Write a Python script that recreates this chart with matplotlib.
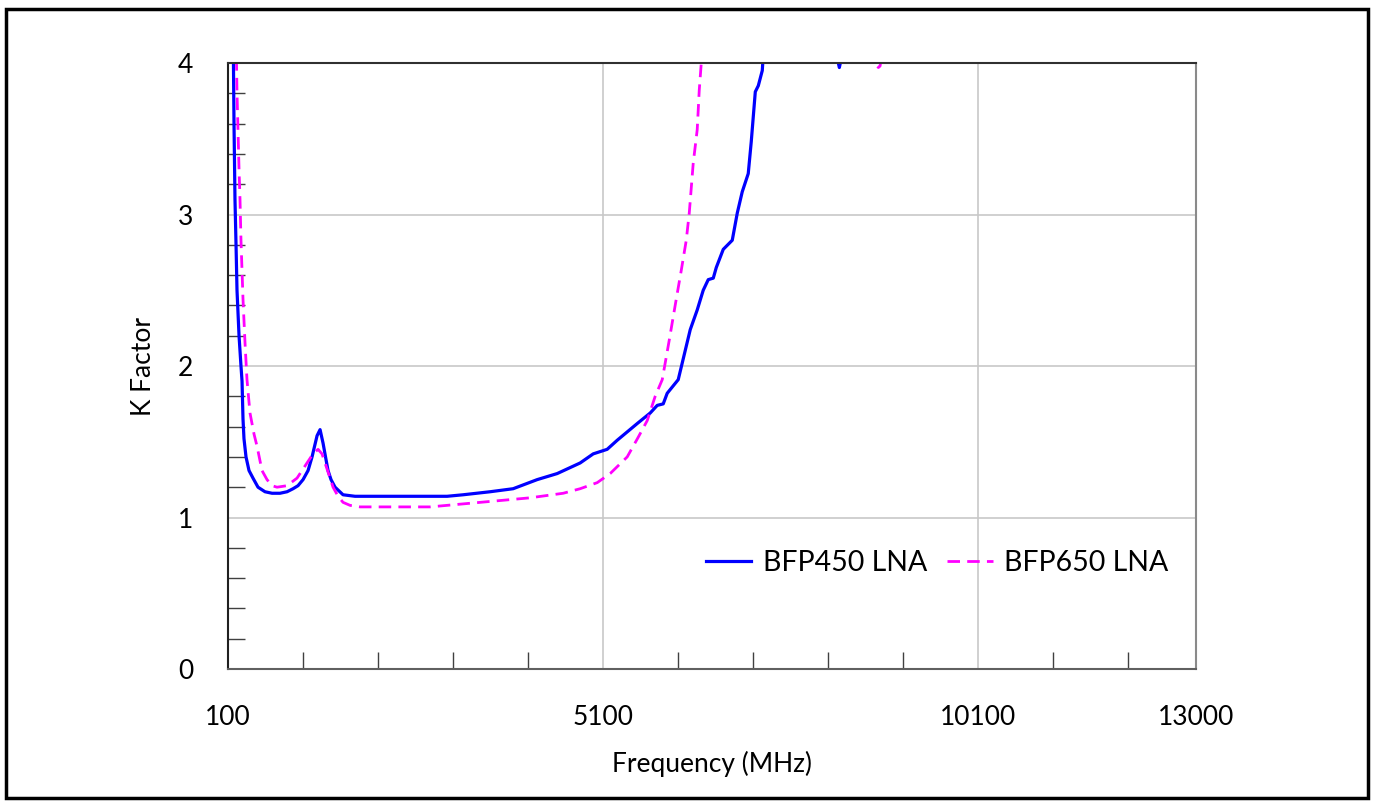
import numpy as np
import matplotlib
matplotlib.use("Agg")
import matplotlib.pyplot as plt
from matplotlib.patches import Rectangle

plt.rcParams['font.family'] = ['Lato', 'DejaVu Sans']

# BFP450 LNA, K factor vs frequency (MHz)
f_450 = [150, 167, 180, 193, 207, 220, 247, 273, 287, 300, 313, 340, 380, 433, 500, 593, 687, 793,
         887, 967, 1033, 1100, 1167, 1220, 1287, 1327, 1367, 1407, 1433, 1473, 1527, 1633, 1793,
         2127, 2527, 3020, 3233, 3593, 3900, 4220, 4487, 4793, 4967, 5153, 5287, 5553, 5727, 5820,
         5900, 5953, 6100, 6260, 6353, 6433, 6500, 6567, 6607, 6700, 6820, 6887, 6953, 6993, 7033,
         7073, 7127, 7167, 7220, 7233, 7400, 8000, 8220, 8247, 8273, 8500, 9000]
k_450 = [5.0, 4.3, 3.6, 3.1, 2.8, 2.5, 2.2, 2.0, 1.9, 1.65, 1.52, 1.40, 1.31, 1.26, 1.20, 1.17, 1.16, 1.16,
         1.17, 1.19, 1.21, 1.25, 1.31, 1.40, 1.54, 1.58, 1.49, 1.38, 1.31, 1.25, 1.20, 1.15, 1.14,
         1.14, 1.14, 1.14, 1.15, 1.17, 1.19, 1.25, 1.29, 1.36, 1.42, 1.45, 1.51, 1.62, 1.69, 1.74,
         1.75, 1.82, 1.91, 2.24, 2.37, 2.50, 2.57, 2.58, 2.65, 2.77, 2.83, 3.01, 3.15, 3.21, 3.27,
         3.48, 3.81, 3.85, 3.95, 4.05, 4.6, 4.3, 4.03, 3.97, 4.03, 4.4, 4.8]

# BFP650 LNA
f_650 = [180, 207, 220, 247, 260, 273, 300, 327, 353, 393, 447, 487, 553, 620, 687, 753, 887, 1020,
         1153, 1233, 1300, 1353, 1393, 1447, 1500, 1567, 1633, 1727, 1860, 2393, 2793, 3460, 4127,
         4567, 4793, 5020, 5193, 5420, 5567, 5687, 5793, 5887, 5980, 6073, 6140, 6207, 6247, 6300,
         6353, 6380, 6407, 6433, 6600, 8000, 8680, 8713, 8767, 8790, 8810, 9000]
k_650 = [5.0, 4.2, 3.8, 3.3, 3.10, 2.83, 2.44, 2.15, 1.91, 1.69, 1.55, 1.47, 1.31, 1.25, 1.21, 1.20, 1.21, 1.26,
         1.36, 1.42, 1.45, 1.42, 1.36, 1.28, 1.20, 1.14, 1.10, 1.08, 1.07, 1.07, 1.07, 1.10, 1.13,
         1.16, 1.19, 1.23, 1.29, 1.40, 1.53, 1.64, 1.80, 1.91, 2.17, 2.44, 2.63, 2.83, 3.01, 3.34,
         3.56, 3.82, 4.0, 4.2, 4.8, 4.6, 4.05, 4.0, 3.97, 3.98, 4.05, 4.3]

x_labels = [100, 5100, 10100, 13000]
x_minor = [1100, 2100, 3100, 4100, 6100, 7100, 8100, 9100, 11100, 12100]
y_labels = [0, 1, 2, 3, 4]

fig = plt.figure(figsize=(13.75, 8.01), dpi=100)
ax = fig.add_axes([228 / 1375, 1 - 669 / 801, 968 / 1375, 606 / 801])

ax.plot(f_450, k_450, color='#0000ff', lw=2.3, label='BFP450 LNA', solid_joinstyle='round')
ax.plot(f_650, k_650, color='#ff00ff', lw=2.0, dashes=(4.5, 2.6), label='BFP650 LNA')

ax.set_xlim(100, 13000)
ax.set_ylim(0, 4)
ax.set_xticks(x_labels)
ax.set_xticklabels([str(v) for v in x_labels])
ax.set_xticks(x_minor, minor=True)
ax.set_yticks(y_labels)
ax.set_yticks([v for v in np.arange(0.2, 4, 0.2) if abs(v - round(v)) > 0.01], minor=True)

ax.tick_params(axis='both', which='major', length=0, labelsize=19, pad=26)
ax.tick_params(axis='y', which='major', pad=25)
ax.tick_params(axis='both', which='minor', direction='in', length=12, width=1, color='#404040')
ax.grid(True, which='major', color='#c8c8c8', lw=1.2)

ax.spines['left'].set_color('#202020')
ax.spines['bottom'].set_color('#606060')
ax.spines['top'].set_color('#303030')
ax.spines['right'].set_color('#8a8a8a')
for s in ax.spines.values():
    s.set_linewidth(1.5)

ax.set_xlabel('Frequency (MHz)', fontsize=19, labelpad=15)
ax.set_ylabel('K Factor', fontsize=19, labelpad=16)

ax.legend(ncol=2, frameon=False, fontsize=20.5, loc='center', bbox_to_anchor=(0.7325, 0.175),
          handlelength=1.6, handletextpad=0.4, columnspacing=0.7)

# outer border round the whole chart
fig.patches.append(Rectangle((6 / 1375, 1 - 798 / 801), 1362 / 1375, 789 / 801,
                             transform=fig.transFigure, fill=False, ec='black', lw=2.5))

fig.savefig('out.png', dpi=100)
